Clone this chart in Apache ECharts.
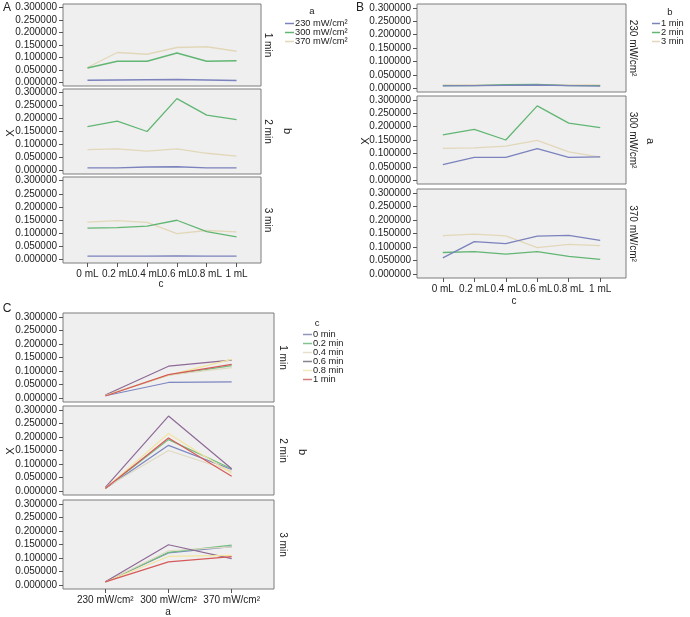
<!DOCTYPE html>
<html>
<head>
<meta charset="utf-8">
<script src="https://cdn.jsdelivr.net/npm/echarts@6/dist/echarts.min.js"></script>
<style>
html,body{margin:0;padding:0;background:#fff;}
#chart{width:690px;height:617px;}
</style>
</head>
<body>
<div id="chart"></div>
<script>
// ---------- data ----------
const doseLabels = ['230 mW/cm²', '300 mW/cm²', '370 mW/cm²'];   // factor a
const timeLabels = ['1 min', '2 min', '3 min'];                    // factor b
const volumeLabels = ['0 mL', '0.2 mL', '0.4 mL', '0.6 mL', '0.8 mL', '1 mL']; // factor c
const volumeSeriesNames = ['0 min', '0.2 min', '0.4 min', '0.6 min', '0.8 min', '1 min']; // legend c in panel C
const yTicks = [0, 0.05, 0.1, 0.15, 0.2, 0.25, 0.3];

// X values, one array per dose × time, ordered by volume (0 … 1 mL)
const x230_1min = [0.009, 0.010, 0.011, 0.012, 0.010, 0.008];
const x230_2min = [0.010, 0.010, 0.013, 0.014, 0.010, 0.010];
const x230_3min = [0.012, 0.012, 0.012, 0.013, 0.012, 0.012];
const x300_1min = [0.058, 0.085, 0.085, 0.118, 0.085, 0.087];
const x300_2min = [0.169, 0.190, 0.150, 0.277, 0.213, 0.196];
const x300_3min = [0.119, 0.121, 0.127, 0.149, 0.106, 0.086];
const x370_1min = [0.060, 0.120, 0.113, 0.140, 0.143, 0.125];
const x370_2min = [0.080, 0.083, 0.074, 0.083, 0.066, 0.055];
const x370_3min = [0.142, 0.148, 0.141, 0.098, 0.110, 0.105];

// ---------- styles ----------
const doseColors = ['#7b82bd', '#62b673', '#e2d7b9'];
const timeColors = ['#7b82bd', '#62b673', '#e2d7b9'];
const volColors = ['#7c86c0', '#74be7f', '#e0dac2', '#8e6a96', '#f2e49c', '#d65a5a'];
const volLegendColors = ['#8f95b8', '#86c290', '#e4e0cc', '#85858f', '#f3eabb', '#d67a7a'];

const table = [
  [x230_1min, x230_2min, x230_3min],
  [x300_1min, x300_2min, x300_3min],
  [x370_1min, x370_2min, x370_3min]
];

const FONT = 'Liberation Sans, Arial, Helvetica, sans-serif';
const txt = '#222';

// panel layout (pixels)
const layoutA = {left: 63, width: 198, tops: [4, 89, 177], heights: [82, 85, 86]};
const layoutB = {left: 417, width: 209, tops: [4, 96, 189], heights: [88, 88, 89]};
const layoutC = {left: 63, width: 211, tops: [313, 406, 500], heights: [89, 89, 89]};

const grids = [], xAxes = [], yAxes = [], series = [], graphics = [];

function addPanel(lay, idx, xMin, xMax, xLabels, showXLabels) {
  const g = grids.length;
  grids.push({
    left: lay.left, top: lay.tops[idx], width: lay.width, height: lay.heights[idx],
    show: true, backgroundColor: '#efefef', borderColor: '#7c7c7c', borderWidth: 1,
    containLabel: false
  });
  xAxes.push({
    type: 'value', gridIndex: g, min: xMin, max: xMax, position: 'bottom',
    axisLine: {show: false, onZero: false},
    splitLine: {show: false},
    axisTick: {show: showXLabels, length: 4, lineStyle: {color: '#555'},
      customValues: xLabels.map((_, i) => i)},
    axisLabel: {show: showXLabels, margin: 6, fontSize: 10, color: txt, fontFamily: FONT,
      customValues: xLabels.map((_, i) => i),
      formatter: v => xLabels[Math.round(v)]}
  });
  yAxes.push({
    type: 'value', gridIndex: g, min: -0.014, max: 0.314, position: 'left',
    axisLine: {show: false, onZero: false},
    splitLine: {show: false},
    axisTick: {show: true, length: 4, lineStyle: {color: '#555'}, customValues: yTicks},
    axisLabel: {margin: 6, fontSize: 10, color: txt, fontFamily: FONT, customValues: yTicks,
      formatter: v => v.toFixed(6)}
  });
  return g;
}

function addText(text, x, y, opts) {
  opts = opts || {};
  graphics.push({
    type: 'text', x: x, y: y, rotation: opts.rotation || 0, silent: true,
    style: {text: text, fontSize: opts.fontSize || 10, fontFamily: FONT, fill: opts.fill || txt,
      align: opts.align || 'center', verticalAlign: 'middle'}
  });
}

// ---------- Panel A: x = volume, series = dose, rows = time ----------
for (let k = 0; k < 3; k++) {
  const g = addPanel(layoutA, k, -0.82, 5.82, volumeLabels, k === 2);
  for (let a = 0; a < 3; a++) {
    series.push({
      type: 'line', name: doseLabels[a], xAxisIndex: g, yAxisIndex: g,
      data: volumeLabels.map((_, j) => [j, table[a][k][j]]),
      symbol: 'none', lineStyle: {width: 1.3, color: doseColors[a]}, itemStyle: {color: doseColors[a]},
      z: 3 - a
    });
  }
  addText(timeLabels[k], 268, layoutA.tops[k] + layoutA.heights[k] / 2, {rotation: -Math.PI / 2});
}

// ---------- Panel B: x = volume, series = time, rows = dose ----------
for (let a = 0; a < 3; a++) {
  const g = addPanel(layoutB, a, -0.82, 5.82, volumeLabels, a === 2);
  for (let k = 0; k < 3; k++) {
    series.push({
      type: 'line', name: timeLabels[k], xAxisIndex: g, yAxisIndex: g,
      data: volumeLabels.map((_, j) => [j, table[a][k][j]]),
      symbol: 'none', lineStyle: {width: 1.3, color: timeColors[k]}, itemStyle: {color: timeColors[k]},
      z: 3 - k
    });
  }
  addText(doseLabels[a], 633, layoutB.tops[a] + layoutB.heights[a] / 2, {rotation: -Math.PI / 2});
}

// ---------- Panel C: x = dose, series = volume, rows = time ----------
for (let k = 0; k < 3; k++) {
  const g = addPanel(layoutC, k, -0.67, 2.67, doseLabels, k === 2);
  for (let j = 0; j < 6; j++) {
    series.push({
      type: 'line', name: volumeSeriesNames[j], xAxisIndex: g, yAxisIndex: g,
      data: doseLabels.map((_, a) => [a, table[a][k][j]]),
      symbol: 'none', lineStyle: {width: 1.2, color: volColors[j]}, itemStyle: {color: volColors[j]}
    });
  }
  addText(timeLabels[k], 283, layoutC.tops[k] + layoutC.heights[k] / 2, {rotation: -Math.PI / 2});
}

// ---------- titles / facet labels ----------
addText('A', 7, 8, {fontSize: 12});
addText('B', 360, 8, {fontSize: 12});
addText('C', 7, 309, {fontSize: 12});

addText('X', 11, 133, {fontSize: 11, rotation: Math.PI / 2});
addText('X', 366, 141, {fontSize: 11, rotation: Math.PI / 2});
addText('X', 11, 451, {fontSize: 11, rotation: Math.PI / 2});

addText('b', 287, 131, {fontSize: 11, rotation: -Math.PI / 2});
addText('a', 650, 141, {fontSize: 11, rotation: -Math.PI / 2});
addText('b', 302, 452, {fontSize: 11, rotation: -Math.PI / 2});

addText('c', 161, 284, {fontSize: 10});
addText('c', 514, 301, {fontSize: 10});
addText('a', 168, 612, {fontSize: 10});

addText('a', 312, 11, {fontSize: 9.5});
addText('b', 670, 12, {fontSize: 9.5});
addText('c', 317, 323, {fontSize: 9.5});

function legendData(names, colors) {
  return names.map((n, i) => ({name: n, itemStyle: {color: colors[i]}}));
}
const legendCommon = {
  orient: 'vertical', icon: 'rect', itemWidth: 9, itemHeight: 1.5, itemGap: 0,
  padding: 0, selectedMode: false,
  textStyle: {fontSize: 9.3, lineHeight: 8.7, fontFamily: FONT, color: txt, padding: [0, 0, 0, -4]}
};

const chart = echarts.init(document.getElementById('chart'), null, {renderer: 'canvas'});
chart.setOption({
  animation: false,
  backgroundColor: '#fff',
  grid: grids,
  xAxis: xAxes,
  yAxis: yAxes,
  series: series,
  legend: [
    Object.assign({}, legendCommon, {left: 285, top: 19, data: legendData(doseLabels, doseColors)}),
    Object.assign({}, legendCommon, {left: 652, top: 19, itemWidth: 8, data: legendData(timeLabels, timeColors)}),
    Object.assign({}, legendCommon, {left: 303, top: 330, data: legendData(volumeSeriesNames, volLegendColors)})
  ],
  graphic: graphics
});
</script>
</body>
</html>
